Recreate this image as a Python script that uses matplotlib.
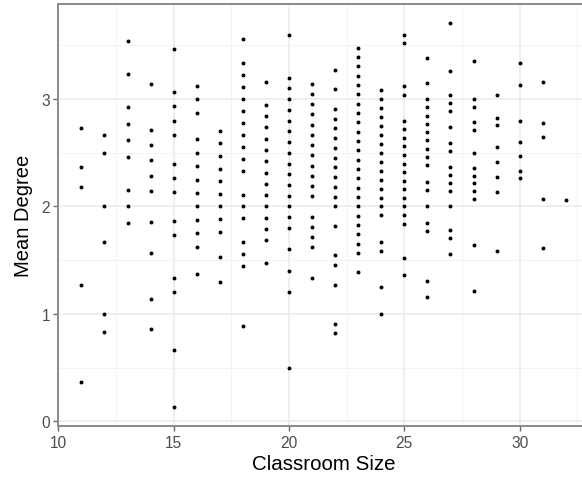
import matplotlib
matplotlib.use("Agg")
import matplotlib.pyplot as plt
from matplotlib.ticker import MultipleLocator

# Classroom sizes and mean degree values (one list per classroom size)
class_sizes = [11, 12, 13, 14, 15, 16, 17, 18, 19, 20, 21,
               22, 23, 24, 25, 26, 27, 28, 29, 30, 31, 32]

deg_11 = [2.727, 2.364, 2.182, 1.273, 0.364]
deg_12 = [2.667, 2.5, 2.0, 1.667, 1.0, 0.833]
deg_13 = [3.538, 3.231, 2.923, 2.769, 2.615, 2.462, 2.154, 2.0, 1.846]
deg_14 = [3.143, 2.714, 2.571, 2.429, 2.286, 2.143, 1.857, 1.571, 1.143, 0.857]
deg_15 = [3.467, 3.067, 2.933, 2.8, 2.667, 2.4, 2.267, 2.133, 1.867, 1.733,
          1.333, 1.2, 0.667, 0.133]
deg_16 = [3.125, 3.0, 2.875, 2.625, 2.5, 2.375, 2.25, 2.125, 2.0, 1.875,
          1.75, 1.625, 1.375]
deg_17 = [2.706, 2.588, 2.471, 2.353, 2.235, 2.118, 2.0, 1.882, 1.765,
          1.529, 1.294]
deg_18 = [3.556, 3.333, 3.222, 3.111, 3.0, 2.889, 2.778, 2.667, 2.556,
          2.444, 2.333, 2.111, 2.0, 1.889, 1.667, 1.556, 1.444, 0.889]
deg_19 = [3.158, 2.947, 2.842, 2.737, 2.632, 2.526, 2.421, 2.316, 2.211,
          2.105, 2.0, 1.895, 1.789, 1.684, 1.474]
deg_20 = [3.6, 3.2, 3.1, 3.0, 2.9, 2.8, 2.7, 2.6, 2.5, 2.4, 2.3, 2.2, 2.1,
          2.0, 1.9, 1.8, 1.6, 1.4, 1.2, 0.5]
deg_21 = [3.143, 3.048, 2.952, 2.857, 2.762, 2.667, 2.571, 2.476, 2.381,
          2.286, 2.190, 2.095, 1.905, 1.810, 1.714, 1.619, 1.333]
deg_22 = [3.273, 3.091, 2.909, 2.818, 2.727, 2.636, 2.545, 2.455, 2.364,
          2.273, 2.182, 2.091, 2.0, 1.818, 1.545, 1.455, 1.273, 0.909, 0.818]
deg_23 = [3.478, 3.391, 3.304, 3.217, 3.130, 3.043, 2.957, 2.870, 2.783,
          2.696, 2.609, 2.522, 2.435, 2.348, 2.261, 2.174, 2.087, 2.0,
          1.913, 1.826, 1.739, 1.652, 1.565, 1.391]
deg_24 = [3.083, 3.0, 2.917, 2.833, 2.75, 2.667, 2.583, 2.5, 2.417, 2.333,
          2.25, 2.167, 2.083, 2.0, 1.917, 1.667, 1.583, 1.25, 1.0]
deg_25 = [3.6, 3.52, 3.12, 3.04, 2.8, 2.72, 2.64, 2.56, 2.48, 2.4, 2.32,
          2.24, 2.16, 2.08, 2.0, 1.92, 1.84, 1.52, 1.36]
deg_26 = [3.385, 3.154, 3.0, 2.923, 2.846, 2.769, 2.692, 2.615, 2.538,
          2.462, 2.385, 2.231, 2.154, 2.0, 1.846, 1.769, 1.308, 1.154]
deg_27 = [3.704, 3.259, 3.037, 2.963, 2.889, 2.741, 2.593, 2.519, 2.370,
          2.296, 2.222, 2.148, 2.0, 1.778, 1.704, 1.556]
deg_28 = [3.357, 3.0, 2.929, 2.786, 2.714, 2.5, 2.357, 2.286, 2.214, 2.143,
          2.071, 1.643, 1.214]
deg_29 = [3.034, 2.828, 2.759, 2.552, 2.414, 2.276, 2.138, 1.586]
deg_30 = [3.333, 3.133, 2.8, 2.6, 2.467, 2.333, 2.267]
deg_31 = [3.161, 2.774, 2.645, 2.065, 1.613]
deg_32 = [2.0625]

degrees_by_size = [deg_11, deg_12, deg_13, deg_14, deg_15, deg_16, deg_17,
                   deg_18, deg_19, deg_20, deg_21, deg_22, deg_23, deg_24,
                   deg_25, deg_26, deg_27, deg_28, deg_29, deg_30, deg_31,
                   deg_32]

x_ticks = [10, 15, 20, 25, 30]
y_ticks = [0, 1, 2, 3]

xs, ys = [], []
for size, degs in zip(class_sizes, degrees_by_size):
    xs.extend([size] * len(degs))
    ys.extend(degs)

plt.rcParams['font.family'] = ['Liberation Sans', 'DejaVu Sans']

W, H = 582, 481
fig = plt.figure(figsize=(W / 100, H / 100), dpi=100)
left_px, right_px = 58.3, 590.0
top_px, bottom_px = 4.5, 427.3
ax = fig.add_axes([left_px / W, 1 - bottom_px / H,
                   (right_px - left_px) / W, (bottom_px - top_px) / H])

ax.scatter(xs, ys, s=8, color='black', linewidths=0, zorder=3)

ax.set_xlim(10, 33.05)
ax.set_ylim(-0.047, 3.89)
ax.set_xticks(x_ticks)
ax.set_yticks(y_ticks)
ax.xaxis.set_minor_locator(MultipleLocator(2.5))
ax.yaxis.set_minor_locator(MultipleLocator(0.5))

ax.grid(which='major', color='#ebebeb', linewidth=1.1, zorder=0)
ax.grid(which='minor', color='#f3f3f3', linewidth=0.7, zorder=0)
ax.set_axisbelow(True)

for side in ['left', 'bottom', 'top', 'right']:
    ax.spines[side].set_color('#8a8a8a')
    ax.spines[side].set_linewidth(1.4)

ax.tick_params(axis='both', which='major', length=3.5, width=1.0,
               color='#6a6a6a', labelcolor='#4d4d4d', labelsize=11.2, pad=2.5)
ax.tick_params(axis='both', which='minor', length=0)

ax.set_xlabel('Classroom Size', fontsize=14.8, color='black', va='center')
ax.set_ylabel('Mean Degree', fontsize=14.5, color='black', va='center')
ax.xaxis.set_label_coords(0.5, -(465 - bottom_px) / (bottom_px - top_px))
ax.yaxis.set_label_coords((24 - left_px) / (right_px - left_px), 0.5)

fig.savefig('out.png', dpi=100)
